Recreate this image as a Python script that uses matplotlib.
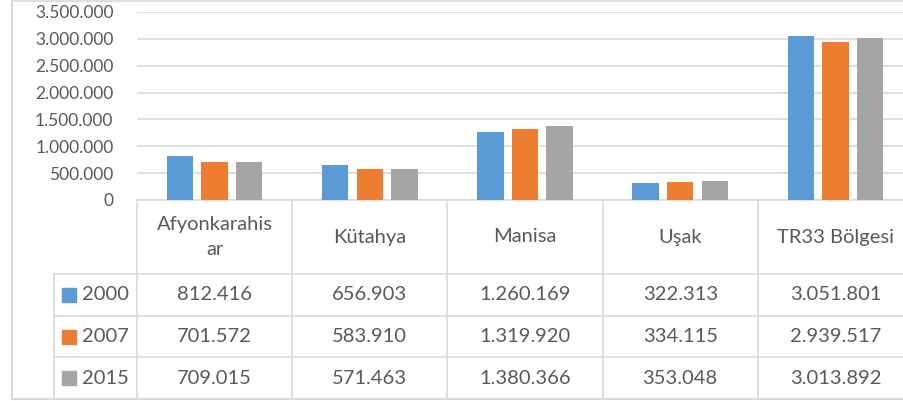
import matplotlib.pyplot as plt
from matplotlib.patches import Rectangle
import numpy as np

# veriler
iller = ["Afyonkarahis\nar", "Kütahya", "Manisa", "Uşak", "TR33 Bölgesi"]
yillar = ["2000", "2007", "2015"]
n2000 = [812416, 656903, 1260169, 322313, 3051801]
n2007 = [701572, 583910, 1319920, 334115, 2939517]
n2015 = [709015, 571463, 1380366, 353048, 3013892]
renkler = ["#5B9BD5", "#ED7D31", "#A5A5A5"]

def nokta(v):
    return f"{v:,}".replace(",", ".")

W, H = 904, 401
plt.rcParams['font.family'] = ['Lato', 'DejaVu Sans']
yazi = "#595959"
cizgi = "#d9d9d9"

fig = plt.figure(figsize=(W / 100, H / 100), dpi=100)

# piksel koordinatli arka katman (cerceve + tablo)
bg = fig.add_axes([0, 0, 1, 1])
bg.set_xlim(0, W)
bg.set_ylim(H, 0)
bg.axis("off")

x0, x1 = 137, 913
y0, ytop = 200, 12
kol = (x1 - x0) / len(iller)

ax = fig.add_axes([x0 / W, 1 - y0 / H, (x1 - x0) / W, (y0 - ytop) / H])
x = np.arange(len(iller))
bw = 0.17
for k, seri in enumerate([n2000, n2007, n2015]):
    ax.bar(x + (k - 1) * 0.223, seri, bw, color=renkler[k], zorder=3)
ax.set_xlim(-0.5, len(iller) - 0.5)
ax.set_ylim(0, 3500000)
ax.set_yticks(np.arange(0, 3500001, 500000))
ax.set_yticklabels([nokta(int(t)) for t in np.arange(0, 3500001, 500000)],
                   fontsize=12.5, color=yazi)
ax.tick_params(axis="y", length=0, pad=17)
ax.set_xticks([])
ax.grid(axis="y", color=cizgi, lw=1.2, zorder=0)
for s in ax.spines.values():
    s.set_visible(False)
ax.patch.set_alpha(0)

# dis cerceve
bg.plot([12, 12, W + 5], [1, 399, 399], color=cizgi, lw=1.5)
bg.plot([12, W + 5], [1, 1], color=cizgi, lw=1.2)

# tablo
satir = [200, 274, 316, 357, 399]
lx = 54
bg.plot([x0, x1], [200, 200], color=cizgi, lw=1.2)
for yy in satir[1:]:
    bg.plot([lx, x1], [yy, yy], color=cizgi, lw=1.2)
bg.plot([lx, lx], [274, 399], color=cizgi, lw=1.2)
for i in range(len(iller) + 1):
    bg.plot([x0 + i * kol] * 2, [200, 399], color=cizgi, lw=1.2)

for i, ad in enumerate(iller):
    cx = x0 + (i + 0.5) * kol
    bg.text(cx, 237, ad, ha="center", va="center", fontsize=14.5,
            color=yazi, linespacing=1.55)
    for r, seri in enumerate([n2000, n2007, n2015]):
        cy = (satir[r + 1] + satir[r + 2]) / 2
        bg.text(cx, cy, nokta(seri[i]), ha="center", va="center",
                fontsize=14.5, color=yazi)

for r, yil in enumerate(yillar):
    cy = (satir[r + 1] + satir[r + 2]) / 2
    bg.add_patch(Rectangle((62, cy - 7), 14, 14, color=renkler[r]))
    bg.text(82, cy, yil, ha="left", va="center", fontsize=14.5, color=yazi)

fig.savefig("out.png", dpi=100)
